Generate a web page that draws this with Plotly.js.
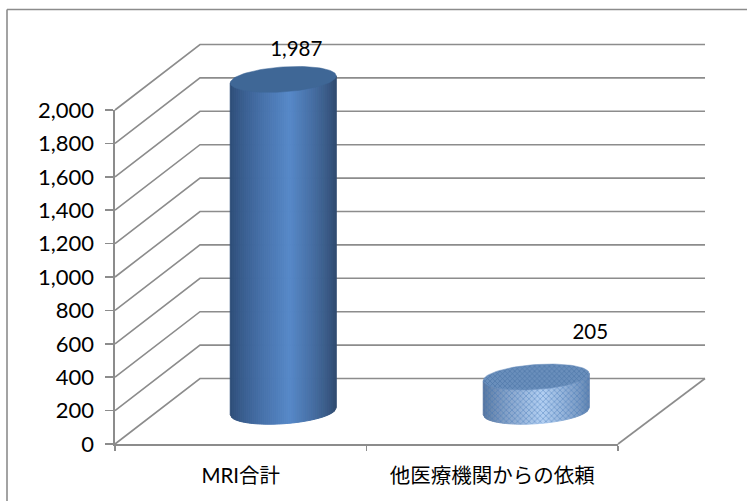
<!DOCTYPE html>
<html><head><meta charset="utf-8">
<script src="https://cdn.plot.ly/plotly-3.0.1.min.js"></script>
<style>html,body{margin:0;padding:0;background:#fff}#c{width:747px;height:501px}</style>
</head><body><div id="c"></div>
<script>
const categories = ['MRI合計', '他医療機関からの依頼'];
const values = [1987, 205];
const gridValues = [0,200,400,600,800,1000,1200,1400,1600,1800,2000];

const W = 747, H = 501;
const plotL = 115, plotR = 618, plotT = 110, plotB = 444;
const pxPerCat = (plotR - plotL) / 2, pxPerVal = (plotB - plotT) / 2000;
const depthX = 85 / pxPerCat, depthY = 65.5 / pxPerVal, backExtra = 2 / pxPerCat;
const halfW = 53 / pxPerCat, ellB = 12.5 / pxPerVal, ellS = 3.5 / pxPerVal;
const gridColor = '#8c8c8c';
const fontNum = 'Lato, "Noto Sans CJK JP", sans-serif';
const labelShift = [[13, 29], [54, 43]];   // px offset of the data label from the top of the cylinder
const cylShift = [0, 1.5];
const palettes = [
  {edgeL:[44,74,116], mid:[86,136,200], edgeR:[46,72,108], top:'#3f6796'},
  {edgeL:[84,114,156], mid:[178,207,242], edgeR:[96,130,174], top:'#6a8fbc'}
];
const midU = 0.12, STRIPS = 53;

function mix(a, b, f){ return 'rgb(' + a.map((v,i)=>Math.round(v+(b[i]-v)*f)).join(',') + ')'; }
function shade(p, u){
  if (u < midU) { const f = (u+1)/(midU+1); return mix(p.edgeL, p.mid, Math.pow(f,0.75)); }
  const f = (1-u)/(1-midU); return mix(p.edgeR, p.mid, Math.pow(f,0.75));
}
const traces = [];
// invisible trace that keeps the real axes alive
traces.push({x:[0.5,1.5], y:values, mode:'none', xaxis:'x', yaxis:'y', hoverinfo:'skip', showlegend:false});

function addLine(xs, ys){
  traces.push({x:xs, y:ys, mode:'lines', xaxis:'x2', yaxis:'y2', line:{color:gridColor, width:1.6}, hoverinfo:'skip', showlegend:false});
}
gridValues.forEach(v => addLine([0, depthX, 2+depthX+backExtra], [v, v+depthY, v+depthY]));
addLine([2, 2+depthX+backExtra], [0, depthY]);

function cylinder(i){
  const p = palettes[i], v = values[i];
  const cx = i + 0.5 + depthX/2 + cylShift[i]/pxPerCat, base = depthY/2, top = base + v;
  const arc = u => base + ellS*u - ellB*Math.sqrt(Math.max(0,1-u*u));
  const chord = u => top + ellS*u;
  for (let k = 0; k < STRIPS; k++){
    const u0 = -1 + 2*k/STRIPS, u1 = -1 + 2*(k+1)/STRIPS, um = (u0+u1)/2;
    traces.push({
      x:[cx+halfW*u0, cx+halfW*u1, cx+halfW*u1, cx+halfW*u0, cx+halfW*u0],
      y:[chord(u0), chord(u1), arc(u1), arc(u0), chord(u0)],
      mode:'lines', fill:'toself', fillcolor:shade(p,um),
      line:{color:shade(p,um), width:1}, xaxis:'x2', yaxis:'y2', hoverinfo:'skip', showlegend:false
    });
  }
  const ex = [], ey = [];
  for (let a = 0; a <= 96; a++){
    const t = a/96*2*Math.PI, u = Math.cos(t);
    ex.push(cx + halfW*u); ey.push(top + ellS*u + ellB*Math.sin(t));
  }
  if (i === 1){
    const bx = [], by = [];
    for (let a = 0; a <= 48; a++){ const u = -1 + a/24; bx.push(cx+halfW*u); by.push(chord(u)); }
    for (let a = 48; a >= 0; a--){ const u = -1 + a/24; bx.push(cx+halfW*u); by.push(arc(u)); }
    traces.push({x:bx, y:by, mode:'lines', fill:'toself', fillcolor:'rgba(0,0,0,0)', line:{width:0, color:'rgba(0,0,0,0)'},
      fillpattern:{shape:'x', fgcolor:'#3f72b4', bgcolor:'rgba(0,0,0,0)', size:4, solidity:0.3, fgopacity:0.6},
      xaxis:'x2', yaxis:'y2', hoverinfo:'skip', showlegend:false});
  }
  const et = {x:ex, y:ey, mode:'lines', fill:'toself', fillcolor:p.top, line:{color:p.top, width:0.5}, xaxis:'x2', yaxis:'y2', hoverinfo:'skip', showlegend:false};
  if (i === 1) et.fillpattern = {shape:'x', fgcolor:'#3f6a9e', bgcolor:p.top, size:3.5, solidity:0.3, fgopacity:0.8};
  traces.push(et);
  traces.push({x:[cx + labelShift[i][0]/pxPerCat], y:[top + labelShift[i][1]/pxPerVal], mode:'text',
    text:[v.toLocaleString('en-US')], textposition:'middle center', cliponaxis:false,
    textfont:{family:fontNum, size:20.5, color:'#000'}, xaxis:'x2', yaxis:'y2', hoverinfo:'skip', showlegend:false});
}
cylinder(0); cylinder(1);

const layout = {
  width:W, height:H, margin:{l:0,r:0,t:0,b:0,pad:0}, paper_bgcolor:'#fff', plot_bgcolor:'rgba(0,0,0,0)', showlegend:false,
  xaxis:{domain:[plotL/W, plotR/W], range:[0,2], anchor:'y', type:'linear', tickmode:'array', tickvals:[0.5,1.5], ticktext:categories,
    ticks:'', showgrid:false, zeroline:false, showline:true, linecolor:gridColor, linewidth:1.6, ticklabelstandoff:13,
    tickfont:{family:fontNum, size:20.5, color:'#000'},
    minor:{tickmode:'array', tickvals:[0,1,2], ticks:'outside', ticklen:5, tickcolor:gridColor, tickwidth:1.5, showgrid:false}},
  yaxis:{domain:[(H-plotB)/H, (H-plotT)/H], range:[0,2000], anchor:'x', tickmode:'array', tickvals:gridValues,
    tickformat:',d', ticks:'outside', ticklen:8, tickcolor:gridColor, tickwidth:1.5, showgrid:false, zeroline:false,
    showline:true, linecolor:gridColor, linewidth:1.6, ticklabelstandoff:7, tickfont:{family:fontNum, size:22, color:'#000'}},
  xaxis2:{domain:[0,1], range:[-plotL/pxPerCat, (W-plotL)/pxPerCat], anchor:'y2', visible:false, fixedrange:true},
  yaxis2:{domain:[0,1], range:[-(H-plotB)/pxPerVal, plotB/pxPerVal], anchor:'x2', visible:false, fixedrange:true},
  shapes:[
    {type:'line', xref:'paper', yref:'paper', x0:7/W, x1:1, y0:1-9.5/H, y1:1-9.5/H, line:{color:'#8c8c8c', width:1.6}},
    {type:'line', xref:'paper', yref:'paper', x0:7/W, x1:7/W, y0:0, y1:1-9.5/H, line:{color:'#8c8c8c', width:1.6}}
  ]
};
Plotly.newPlot('c', traces, layout, {displayModeBar:false, staticPlot:true});
</script></body></html>
